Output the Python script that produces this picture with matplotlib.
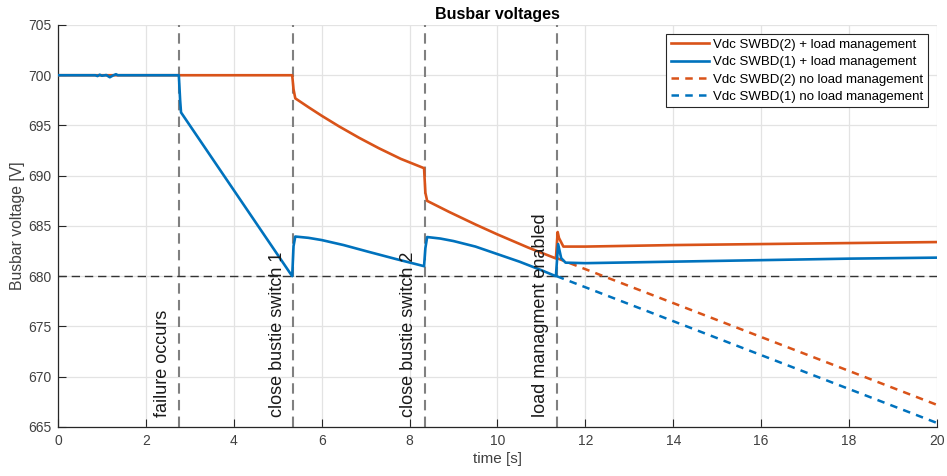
import matplotlib
matplotlib.use("Agg")
import matplotlib.pyplot as plt

plt.rcParams['font.family'] = ['Liberation Sans', 'DejaVu Sans']

# ---- data ----
t_swbd2_lm = [0, 5.33,
              5.36, 5.40, 5.7, 6.0, 6.4, 6.85, 7.3, 7.8, 8.33,
              8.36, 8.40, 8.9, 9.5, 10.0, 10.7, 11.33,
              11.37, 11.40, 11.50, 12.0, 14.0, 16.0, 18.0, 20.0]
v_swbd2_lm = [700.0, 700.0,
              698.6, 697.7, 696.82, 695.97, 694.9, 693.78, 692.74, 691.68, 690.75,
              688.3, 687.5, 686.4, 685.15, 684.16, 682.85, 681.77,
              684.4, 683.8, 682.95, 682.95, 683.1, 683.2, 683.3, 683.4]

t_swbd1_lm = [0, 0.85, 0.9, 0.95, 1.0, 1.1, 1.18, 1.25, 1.32, 1.36, 2.75,
              2.78, 2.80, 5.33,
              5.36, 5.40, 5.7, 6.0, 6.5, 7.05, 7.7, 8.33,
              8.36, 8.40, 8.7, 9.0, 9.5, 10.0, 10.5, 11.0, 11.33,
              11.38, 11.45, 11.55, 12.0, 14.0, 16.0, 18.0, 20.0]
v_swbd1_lm = [700.0, 700.0, 699.92, 700.05, 699.95, 700.02, 699.8, 699.97, 700.1, 700.0, 700.0,
              697.5, 696.3, 680.0,
              683.0, 683.95, 683.82, 683.6, 683.1, 682.45, 681.7, 681.0,
              682.8, 683.9, 683.75, 683.5, 682.95, 682.2, 681.45, 680.6, 680.0,
              683.2, 681.8, 681.35, 681.3, 681.45, 681.6, 681.75, 681.85]

t_nolm = [11.35, 20.0]
v_swbd2_nolm = [681.8, 667.2]
v_swbd1_nolm = [680.0, 665.4]

event_times = [2.75, 5.35, 8.35, 11.35]
event_labels = ["failure occurs", "close bustie switch 1",
                "close bustie switch 2", "load managment enabled"]
v_limit = 680

x_ticks = list(range(0, 21, 2))
y_ticks = list(range(665, 706, 5))

# ---- styling ----
c_orange = '#D95319'
c_blue = '#0072BD'
axcol = '#262626'
tickcol = '#404040'

fig = plt.figure(figsize=(9.47, 4.76), dpi=100)
ax = fig.add_axes([0.0612, 0.103, 0.9282, 0.8445])

ax.grid(True, color='#e3e3e3', linewidth=0.9, zorder=0)
ax.set_axisbelow(True)

for t in event_times:
    ax.axvline(t, color='#808080', linewidth=1.5, linestyle=(0, (5, 3)), zorder=1)
ax.axhline(v_limit, color='#333333', linewidth=1.0, linestyle=(0, (6, 3.5)), zorder=1)

l1, = ax.plot(t_swbd2_lm, v_swbd2_lm, color=c_orange, linewidth=1.9, zorder=3,
              label='Vdc SWBD(2) + load management')
l2, = ax.plot(t_swbd1_lm, v_swbd1_lm, color=c_blue, linewidth=1.9, zorder=4,
              label='Vdc SWBD(1) + load management')
l3, = ax.plot(t_nolm, v_swbd2_nolm, color=c_orange, linewidth=1.8, linestyle=(0, (3, 2.5)),
              zorder=3, label='Vdc SWBD(2) no load management')
l4, = ax.plot(t_nolm, v_swbd1_nolm, color=c_blue, linewidth=1.8, linestyle=(0, (3, 2.5)),
              zorder=3, label='Vdc SWBD(1) no load management')

for t, lab in zip(event_times, event_labels):
    ax.text(t - 0.17, 666.0, lab, rotation=90, ha='right', va='bottom',
            fontsize=13, color='#1a1a1a', zorder=5)

ax.set_xlim(0, 20)
ax.set_ylim(665, 705)
ax.set_xticks(x_ticks)
ax.set_yticks(y_ticks)
ax.tick_params(direction='in', length=6, width=0.8, colors=axcol, labelcolor=tickcol,
               labelsize=10, pad=5)
for s in ['top', 'right']:
    ax.spines[s].set_visible(False)
for s in ['left', 'bottom']:
    ax.spines[s].set_color(axcol)
    ax.spines[s].set_linewidth(0.9)

ax.set_title('Busbar voltages', fontsize=11.5, fontweight='bold', color='#000000', pad=4)
ax.set_xlabel('time [s]', fontsize=11, color=tickcol, labelpad=3)
ax.set_ylabel('Busbar voltage [V]', fontsize=11.3, color=tickcol, labelpad=2)

leg = ax.legend(handles=[l1, l2, l3, l4], loc='upper right', fontsize=9.5,
                frameon=True, fancybox=False, edgecolor='#262626', framealpha=1,
                handlelength=2.9, borderpad=0.35, labelspacing=0.38,
                handletextpad=0.3, borderaxespad=0.7)
leg.get_frame().set_linewidth(0.8)

fig.savefig('out.png', dpi=100)
